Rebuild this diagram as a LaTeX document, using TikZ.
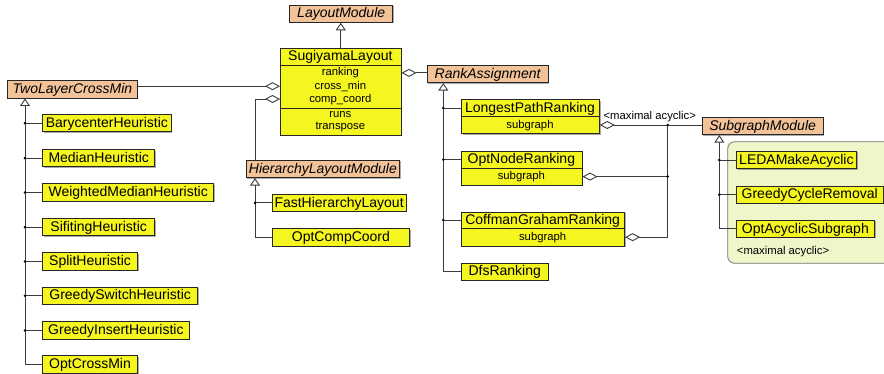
\documentclass[tikz,border=0pt]{standalone}
\usepackage{fontspec}
\setmainfont{Liberation Sans}
\usetikzlibrary{arrows.meta,shadows}

\definecolor{clsyellow}{RGB}{245,245,32}
\definecolor{absorange}{RGB}{242,194,152}
\definecolor{pkggreen}{RGB}{240,245,202}
\definecolor{edgegray}{RGB}{60,60,60}

\tikzset{
  box/.style={draw=black!85, line width=0.8pt, inner sep=0pt,
    drop shadow={shadow xshift=1.1pt, shadow yshift=-1.1pt, opacity=0.55, fill=black!60}},
  bigfont/.style={font=\fontsize{14}{16}\selectfont, text height=10pt, text depth=1.5pt},
  concrete/.style={box, fill=clsyellow, bigfont},
  abstract/.style={box, fill=absorange, bigfont, font=\fontsize{14}{16}\selectfont\itshape},
  title/.style={inner sep=0pt, bigfont},
  member/.style={inner sep=0pt, font=\fontsize{11.3}{13}\selectfont, text height=8pt, text depth=1.8pt},
  sepline/.style={draw=black!85, line width=0.8pt},
  conn/.style={draw=edgegray, line width=0.9pt},
  inh/.style={conn, -{Triangle[open, length=7.5pt, width=10pt, fill=white]}},
  agg/.style={conn, -{Diamond[open, length=15pt, width=8pt, fill=white]}},
  junction/.style={circle, fill=black, inner sep=0pt, minimum size=2.8pt},
  pkg/.style={draw=black!55, fill=pkggreen, line width=0.8pt, rounded corners=7pt},
}

% class box from its corners: style, name, x0, y0, x1, y1, text
\newcommand\umlbox[7]{%
  \pgfmathsetmacro\umlW{#5-#3}\pgfmathsetmacro\umlH{#6-#4}%
  \node[#1, minimum width=\umlW pt, minimum height=\umlH pt, anchor=north west] (#2) at (#3,#4) {#7};}

\begin{document}
\begin{tikzpicture}[x=1pt, y=-1pt]
\useasboundingbox (0,0) rectangle (884,374);
\clip (0,0) rectangle (884,374);

% package area of the acyclic-subgraph implementations
\draw[pkg] (727.7,141.7) rectangle (900,263.3);
\node[member, anchor=west] (pkgnote) at (736.7,251.7) {\textless maximal acyclic\textgreater};

% ---- abstract modules
\umlbox{abstract}{lm}{289.3}{4.7}{392.3}{22}{LayoutModule}
\umlbox{abstract}{tlcm}{7.3}{80}{136.7}{97.7}{TwoLayerCrossMin}
\umlbox{abstract}{hlm}{245.7}{160}{399.3}{177.3}{HierarchyLayoutModule}
\umlbox{abstract}{ra}{426.7}{65}{547.7}{82.3}{RankAssignment}
\umlbox{abstract}{sgm}{701.7}{116.7}{822.7}{134.3}{SubgraphModule}

% ---- SugiyamaLayout with its compartments
\umlbox{concrete}{sugi}{280}{47.7}{400.7}{135}{}
\draw[sepline] ([yshift=-17.3pt]sugi.north west) -- ([yshift=-17.3pt]sugi.north east);
\draw[sepline] ([yshift=-60.6pt]sugi.north west) -- ([yshift=-60.6pt]sugi.north east);
\node[title]  (sugiT)  at (340.35,56.3) {SugiyamaLayout};
\node[member] (sgRank) at (340.35,72.9) {ranking};
\node[member] (sgCross) at (340.35,86.2) {cross\_min};
\node[member] (sgComp) at (340.35,99) {comp\_coord};
\node[member] (sgRuns) at (340.35,114.5) {runs};
\node[member] (sgTrans) at (340.35,126.3) {transpose};

% ---- crossing minimisation heuristics
\umlbox{concrete}{bary}{42.3}{114.1}{170.7}{131.4}{BarycenterHeuristic}
\umlbox{concrete}{median}{42.3}{149.1}{154.3}{166.4}{MedianHeuristic}
\umlbox{concrete}{wmedian}{42.3}{183.4}{213.3}{200.7}{WeightedMedianHeuristic}
\umlbox{concrete}{sift}{42.3}{218.1}{154.3}{235.4}{SifitingHeuristic}
\umlbox{concrete}{split}{42.3}{252.4}{137}{269.7}{SplitHeuristic}
\umlbox{concrete}{gswitch}{42.3}{286.7}{197.3}{304}{GreedySwitchHeuristic}
\umlbox{concrete}{ginsert}{42.3}{321.4}{188.7}{338.7}{GreedyInsertHeuristic}
\umlbox{concrete}{optcross}{42.3}{355.4}{137}{372.7}{OptCrossMin}

% ---- coordinate assignment
\umlbox{concrete}{fhl}{271.7}{194}{405.7}{211}{FastHierarchyLayout}
\umlbox{concrete}{occ}{271.7}{228.5}{409.3}{245.8}{OptCompCoord}

% ---- rankings
\umlbox{concrete}{lpr}{461}{99.3}{599}{133.3}{}
\draw[sepline] ([yshift=-17.4pt]lpr.north west) -- ([yshift=-17.4pt]lpr.north east);
\node[title]  (lprT) at (530,108) {LongestPathRanking};
\node[member] (lprS) at (530,125) {subgraph};

\umlbox{concrete}{onr}{461}{151}{581.7}{185}{}
\draw[sepline] ([yshift=-17.3pt]onr.north west) -- ([yshift=-17.3pt]onr.north east);
\node[title]  (onrT) at (521.35,159.6) {OptNodeRanking};
\node[member] (onrS) at (521.35,176.6) {subgraph};

\umlbox{concrete}{cgr}{461}{211.7}{624.3}{246}{}
\draw[sepline] ([yshift=-16.6pt]cgr.north west) -- ([yshift=-16.6pt]cgr.north east);
\node[title]  (cgrT) at (542.65,220) {CoffmanGrahamRanking};
\node[member] (cgrS) at (542.65,237.2) {subgraph};

\umlbox{concrete}{dfs}{461}{262.7}{547.7}{279.7}{DfsRanking}

% ---- acyclic subgraph modules
\umlbox{concrete}{leda}{736}{151}{856}{168.3}{LEDAMakeAcyclic}
\umlbox{concrete}{gcr}{736}{185.8}{882.7}{202.8}{GreedyCycleRemoval}
\umlbox{concrete}{oas}{736}{220}{874}{237}{OptAcyclicSubgraph}

% ---- generalisations
\draw[inh] (sugi.north) -- (sugi.north |- lm.south);

\coordinate (tlcmT) at ([xshift=17.7pt]tlcm.south west);
\draw[inh] (optcross.west) -| (tlcmT);
\foreach \c in {bary,median,wmedian,sift,split,gswitch,ginsert}
  \draw[conn] (\c.west) -- (\c.west -| tlcmT) node[junction] {};

\coordinate (hlmT) at ([xshift=9.3pt]hlm.south west);
\draw[inh] (occ.west) -| (hlmT);
\draw[conn] (fhl.west) -- (fhl.west -| hlmT) node[junction] {};

\coordinate (raT) at ([xshift=16.6pt]ra.south west);
\draw[inh] (dfs.west) -| (raT);
\draw[conn] (lprT -| lpr.west) -- (lprT -| raT) node[junction] {};
\draw[conn] (onrT -| onr.west) -- (onrT -| raT) node[junction] {};
\draw[conn] (cgrT -| cgr.west) -- (cgrT -| raT) node[junction] {};

\coordinate (sgmT) at ([xshift=17.6pt]sgm.south west);
\draw[inh] (oas.west) -| (sgmT);
\draw[conn] (leda.west) -- (leda.west -| sgmT) node[junction] {};
\draw[conn] (gcr.west) -- (gcr.west -| sgmT) node[junction] {};

% ---- aggregations
\draw[agg] (sgCross -| tlcm.east) -- (sgCross -| sugi.west);
\draw[agg] ([xshift=9.3pt]hlm.north west) |- (sgComp -| sugi.west);
\draw[agg] (sgRank -| ra.west) -- (sgRank -| sugi.east);

\coordinate (jx) at (667.7,0);
\draw[agg] (lprS -| sgm.west) -- node[member, above=3.2pt, pos=0.51] (acyc) {\textless maximal acyclic\textgreater} (lprS -| lpr.east);
\draw[agg] (lprS -| jx) |- (cgrS -| cgr.east);
\draw[agg] (onrS -| jx) -- (onrS -| onr.east);
\node[junction] (j1) at (lprS -| jx) {};
\node[junction] (j2) at (onrS -| jx) {};
\end{tikzpicture}
\end{document}
